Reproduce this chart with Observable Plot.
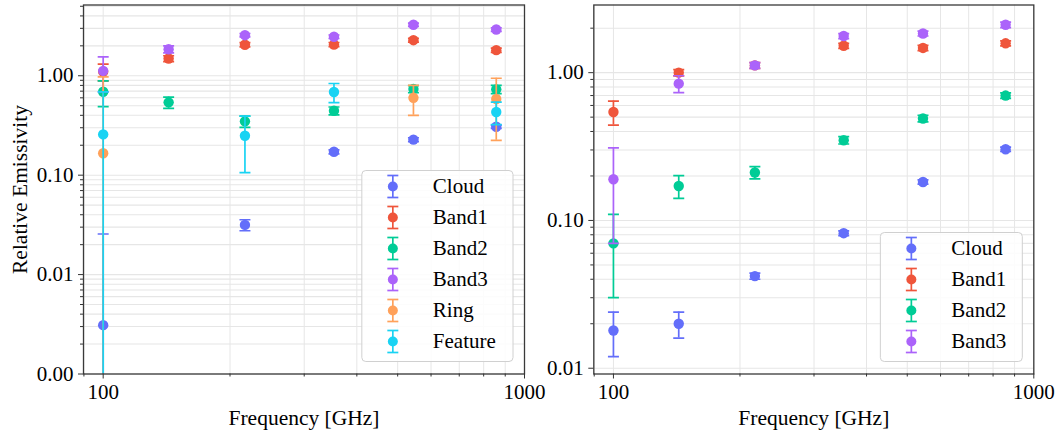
<!DOCTYPE html>
<html>
<head>
<meta charset="utf-8">
<script src="https://cdn.jsdelivr.net/npm/d3@7"></script>
<script src="https://cdn.jsdelivr.net/npm/@observablehq/plot@0.6"></script>
<style>
  html, body { margin: 0; padding: 0; background: white; }
  #wrap { display: flex; flex-direction: row; width: 1062px; height: 436px; }
  #wrap svg { overflow: visible; }
</style>
</head>
<body>
<div id="wrap"></div>
<script>
// ---------- data ----------
const freqs = [100, 143, 217, 353, 545, 857];
const seriesNames = ["Cloud", "Band1", "Band2", "Band3", "Ring", "Feature"];
const seriesColors = ["#636EFA", "#EF553B", "#00CC96", "#AB63FA", "#FFA15A", "#19D3F3"];

// left panel
const leftCloud      = [0.0031, null, 0.0316, 0.172, 0.228, 0.307];
const leftCloudErr   = [0.0225, null, 0.004, 0.008, 0.010, 0.012];
const leftBand1      = [1.10, 1.49, 2.05, 2.06, 2.28, 1.81];
const leftBand1Err   = [0.21, 0.10, 0.10, 0.10, 0.10, 0.09];
const leftBand2      = [0.69, 0.54, 0.348, 0.445, 0.735, 0.73];
const leftBand2Err   = [0.20, 0.07, 0.045, 0.04, 0.06, 0.07];
const leftBand3      = [1.12, 1.85, 2.56, 2.47, 3.26, 2.92];
const leftBand3Err   = [0.43, 0.15, 0.10, 0.10, 0.12, 0.12];
const leftRing       = [0.166, null, null, null, 0.60, 0.584];
const leftRingErr    = [0.81, null, null, null, 0.20, 0.36];
const leftFeature    = [0.257, null, 0.249, 0.686, null, 0.432];
const leftFeatureErr = [0.43, null, 0.143, 0.15, null, 0.11];

// right panel
const rightCloud     = [0.018, 0.020, 0.042, 0.082, 0.182, 0.303];
const rightCloudErr  = [0.006, 0.004, 0.002, 0.003, 0.006, 0.010];
const rightBand1     = [0.542, 1.00, 1.12, 1.52, 1.47, 1.58];
const rightBand1Err  = [0.10, 0.05, 0.05, 0.06, 0.06, 0.06];
const rightBand2     = [0.070, 0.171, 0.211, 0.349, 0.49, 0.70];
const rightBand2Err  = [0.04, 0.03, 0.02, 0.02, 0.025, 0.03];
const rightBand3     = [0.19, 0.843, 1.12, 1.77, 1.84, 2.11];
const rightBand3Err  = [0.12, 0.11, 0.05, 0.07, 0.07, 0.09];

const xMajor = [100, 1000];
const xMinor = [90, 200, 300, 400, 500, 600, 700, 800, 900];
const yMajorLeft = [0.001, 0.01, 0.1, 1];
const yMajorRight = [0.01, 0.1, 1];
const yLabel = "Relative Emissivity";
const xLabel = "Frequency [GHz]";

// ---------- helpers ----------
const FONT = "Liberation Serif";
const capSymbol = {
  draw(ctx, size) {
    const r = Math.sqrt(size / Math.PI);
    ctx.moveTo(-r, 0);
    ctx.lineTo(r, 0);
  }
};

function minorTicks(lo, hi) {
  const out = [];
  for (let e = Math.floor(Math.log10(lo)); e <= Math.ceil(Math.log10(hi)); e++) {
    for (let m = 2; m <= 9; m++) {
      const v = m * Math.pow(10, e);
      if (v >= lo && v <= hi) out.push(v);
    }
  }
  return out;
}

function panel(cfg) {
  const {W, H, mL, mR, mT, mB, xDomain, yDomain, series, yMajor, showYLabel} = cfg;
  const yMinor = minorTicks(yDomain[0], yDomain[1]);
  const xGrid = [...xMajor, ...xMinor];
  const yGrid = [...yMajor, ...yMinor];
  const marks = [
    Plot.gridX({ticks: xGrid, stroke: "#e6e6e6", strokeOpacity: 1, strokeWidth: 1}),
    Plot.gridY({ticks: yGrid, stroke: "#e6e6e6", strokeOpacity: 1, strokeWidth: 1.1})
  ];
  series.forEach(s => {
    const rows = freqs.map((f, i) => ({x: f, y: s.vals[i], e: s.errs[i]})).filter(d => d.y != null);
    const lowOK = rows.filter(d => d.y - d.e > yDomain[0]);
    marks.push(
      Plot.ruleX(rows, {x: "x", y1: d => Math.max(d.y - d.e, yDomain[0] * 0.1), y2: d => d.y + d.e,
        stroke: s.color, strokeWidth: 1.7, clip: true}),
      Plot.dot(rows, {x: "x", y: d => d.y + d.e, symbol: capSymbol, r: 5.5, stroke: s.color,
        strokeWidth: 1.7, fill: "none", clip: true}),
      Plot.dot(lowOK, {x: "x", y: d => d.y - d.e, symbol: capSymbol, r: 5.5, stroke: s.color,
        strokeWidth: 1.7, fill: "none", clip: true}),
      Plot.dot(rows, {x: "x", y: "y", r: 5.2, fill: s.color, stroke: "none", clip: true})
    );
  });
  marks.push(
    Plot.frame({stroke: "#3a3a3a", strokeWidth: 1.3}),
    Plot.axisX({ticks: xMajor, tickSize: 5, tickPadding: 5, tickFormat: d => String(d), label: null,
      stroke: "#333", fontSize: 21}),
    Plot.axisX({ticks: xMinor, tickSize: 3, tickFormat: () => "", label: null, stroke: "#333"}),
    Plot.axisY({ticks: yMajor, tickSize: 5, tickPadding: 5, tickFormat: d3.format(".2f"), label: null,
      stroke: "#333", fontSize: 21}),
    Plot.axisY({ticks: yMinor, tickSize: 3, tickFormat: () => "", label: null, stroke: "#333"}),
    Plot.text([xLabel], {text: d => d, frameAnchor: "bottom", dy: 44, lineAnchor: "middle", fontSize: 21.5, fill: "black"})
  );
  if (showYLabel) {
    marks.push(Plot.text([yLabel], {text: d => d, frameAnchor: "left", dx: -63, rotate: -90,
      textAnchor: "middle", lineAnchor: "middle", fontSize: 21.5, fill: "black"}));
  }
  return Plot.plot({
    width: W, height: H,
    marginLeft: mL, marginRight: mR, marginTop: mT, marginBottom: mB,
    style: {fontFamily: FONT, fontSize: "21px", color: "black", background: "transparent", overflow: "visible"},
    x: {type: "log", domain: xDomain},
    y: {type: "log", domain: yDomain},
    marks
  });
}

function addLegend(svg, series, cfg) {
  const frameRight = cfg.W - cfg.mR;
  const frameBottom = cfg.H - cfg.mB;
  const n = series.length;
  const rowH = 31;
  const boxH = 16 + (n - 1) * rowH + 20;
  const g = d3.select(svg).append("g").attr("font-family", FONT).attr("font-size", 21)
    .attr("text-anchor", "start");
  const rect = g.append("rect").attr("rx", 4).attr("ry", 4)
    .attr("fill", "white").attr("fill-opacity", 0.85).attr("stroke", "#d0d0d0").attr("stroke-width", 1);
  const texts = [];
  series.forEach((s, i) => {
    const t = g.append("text").attr("y", 16 + i * rowH).attr("dy", "0.32em").attr("fill", "black")
      .attr("text-anchor", "start").text(s.name);
    texts.push(t);
  });
  const tw = d3.max(texts, t => t.node().getComputedTextLength());
  const boxW = 71 + tw * 1.13 + 9;
  const left = frameRight - 11 - boxW;
  const top = frameBottom - 12 - boxH;
  g.attr("transform", `translate(${left},${top})`);
  rect.attr("x", 0).attr("y", 0).attr("width", boxW).attr("height", boxH);
  texts.forEach(t => t.attr("x", 71));
  series.forEach((s, i) => {
    const cy = 16 + i * rowH, cx = 31;
    g.append("line").attr("x1", cx).attr("x2", cx).attr("y1", cy - 11).attr("y2", cy + 11)
      .attr("stroke", s.color).attr("stroke-width", 1.7);
    [cy - 11, cy + 11].forEach(yy => g.append("line").attr("x1", cx - 5.5).attr("x2", cx + 5.5)
      .attr("y1", yy).attr("y2", yy).attr("stroke", s.color).attr("stroke-width", 1.7));
    g.append("circle").attr("cx", cx).attr("cy", cy).attr("r", 5).attr("fill", s.color);
  });
}

// ---------- build ----------
const leftSeries = [
  {name: "Cloud", vals: leftCloud, errs: leftCloudErr},
  {name: "Band1", vals: leftBand1, errs: leftBand1Err},
  {name: "Band2", vals: leftBand2, errs: leftBand2Err},
  {name: "Band3", vals: leftBand3, errs: leftBand3Err},
  {name: "Ring", vals: leftRing, errs: leftRingErr},
  {name: "Feature", vals: leftFeature, errs: leftFeatureErr}
].map((s, i) => ({...s, color: seriesColors[i]}));

const rightSeries = [
  {name: "Cloud", vals: rightCloud, errs: rightCloudErr},
  {name: "Band1", vals: rightBand1, errs: rightBand1Err},
  {name: "Band2", vals: rightBand2, errs: rightBand2Err},
  {name: "Band3", vals: rightBand3, errs: rightBand3Err}
].map((s, i) => ({...s, color: seriesColors[i]}));

const leftCfg = {W: 531, H: 436, mL: 83, mR: 7, mT: 4.5, mB: 62.5,
  xDomain: [89.8, 1000], yDomain: [0.001, 5.15], series: leftSeries, yMajor: yMajorLeft, showYLabel: true};
const rightCfg = {W: 531, H: 436, mL: 62.3, mR: 28.7, mT: 4.5, mB: 62.5,
  xDomain: [89.8, 1000], yDomain: [0.00914, 2.87], series: rightSeries, yMajor: yMajorRight, showYLabel: false};

const wrap = document.getElementById("wrap");
const leftSvg = panel(leftCfg);
const rightSvg = panel(rightCfg);
wrap.appendChild(leftSvg);
wrap.appendChild(rightSvg);
addLegend(leftSvg, leftSeries, leftCfg);
addLegend(rightSvg, rightSeries, rightCfg);
</script>
</body>
</html>
